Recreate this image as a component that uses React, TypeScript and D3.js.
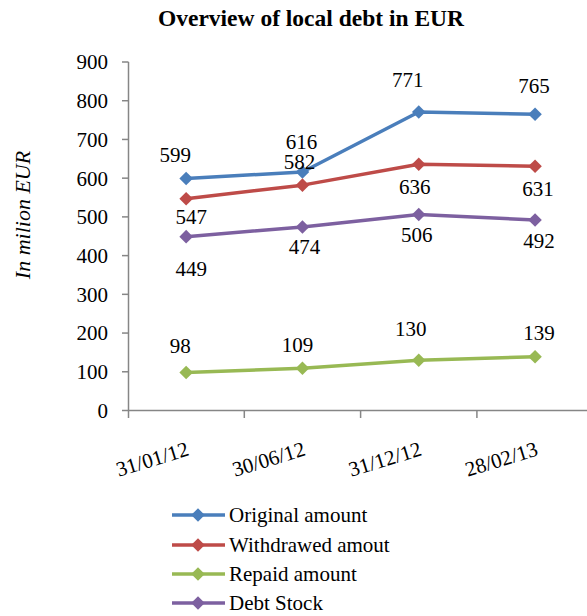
import React from "react";
import * as d3 from "d3";

const categories = ["31/01/12", "30/06/12", "31/12/12", "28/02/13"];
const seriesNames = ["Original amount", "Withdrawed amout", "Repaid amount", "Debt Stock"];
const originalAmount = [599, 616, 771, 765];
const withdrawedAmount = [547, 582, 636, 631];
const repaidAmount = [98, 109, 130, 139];
const debtStock = [449, 474, 506, 492];
const yTicks = [0, 100, 200, 300, 400, 500, 600, 700, 800, 900];

const colors = ["#4A7EBB", "#BE4B48", "#98B954", "#7D60A0"];
// label offsets (dx, dy) relative to the point
const labelOffsets = [
  [[-11, -17], [-1, -23], [-11, -25], [-1, -21]],
  [[5, 25], [-3, -16], [-4, 30], [3, 30]],
  [[-6, -20], [-5, -16], [-8, -24], [4, -17]],
  [[5, 39], [2, 27], [-2, 27], [4, 28]],
];

const W = 587;
const H = 616;
const FONT = "Liberation Serif, Times New Roman, serif";
const ts = { fontFamily: FONT };
const FS = 21;

export default function App() {
  const seriesValues = [originalAmount, withdrawedAmount, repaidAmount, debtStock];
  const x = d3.scaleBand<string>().domain(categories).range([128, 128 + 116.3 * 4]).paddingInner(0).paddingOuter(0);
  const y = d3.scaleLinear().domain([0, 900]).range([410.5, 62]);
  const cx = (c: string) => (x(c) as number) + x.bandwidth() / 2;
  const line = d3
    .line<number>()
    .x((_, i) => cx(categories[i]))
    .y((d) => y(d));
  const diamond = d3.symbol().type(d3.symbolSquare).size(92)();
  const axisColor = "#868686";
  const legendY = [515, 545, 574, 603];

  return (
    <svg
      width={W}
      height={H}
      style={{ position: "absolute", left: 0, top: 0, background: "#fff", fontFamily: FONT }}
    >
      <text x={311} y={26} textAnchor="middle" fontSize={23.5} fontWeight="bold" fill="#000" style={ts}>
        Overview of local debt in EUR
      </text>
      <text
        transform={`translate(30,215) rotate(-90)`}
        textAnchor="middle"
        fontSize={22}
        fontStyle="italic"
        fill="#000"
        style={ts}
      >
        In milion EUR
      </text>
      {/* y axis */}
      <line x1={128.5} x2={128.5} y1={y(900)} y2={418} stroke={axisColor} strokeWidth={1.5} />
      {yTicks.map((t) => (
        <g key={t}>
          <line x1={122} x2={128.5} y1={y(t)} y2={y(t)} stroke={axisColor} strokeWidth={1.5} />
          <text x={108} y={y(t)} dy="0.35em" textAnchor="end" fontSize={FS} fill="#000" style={ts}>
            {t}
          </text>
        </g>
      ))}
      {/* x axis */}
      <line x1={128} x2={W} y1={y(0)} y2={y(0)} stroke={axisColor} strokeWidth={1.5} />
      {categories.map((c, i) =>
        i > 0 ? (
          <line key={c} x1={x(c)} x2={x(c)} y1={y(0)} y2={418} stroke={axisColor} strokeWidth={1.5} />
        ) : null
      )}
      {categories.map((c) => (
        <text
          key={c}
          transform={`translate(${cx(c) + 4},455) rotate(-17)`}
          textAnchor="end"
          fontSize={FS}
          fill="#000"
          style={ts}
        >
          {c}
        </text>
      ))}
      {/* series */}
      {seriesValues.map((vals, si) => (
        <g key={si}>
          <path d={line(vals) || ""} fill="none" stroke={colors[si]} strokeWidth={3.5} strokeLinejoin="round" />
          {vals.map((v, i) => (
            <path
              key={i}
              d={diamond || ""}
              transform={`translate(${cx(categories[i])},${y(v)}) rotate(45)`}
              fill={colors[si]}
            />
          ))}
          {vals.map((v, i) => (
            <text
              key={"l" + i}
              x={cx(categories[i]) + labelOffsets[si][i][0]}
              y={y(v) + labelOffsets[si][i][1]}
              textAnchor="middle"
              fontSize={FS}
              fill="#000"
              style={ts}
            >
              {v}
            </text>
          ))}
        </g>
      ))}
      {/* legend */}
      {seriesNames.map((n, si) => (
        <g key={n}>
          <line x1={172} x2={225} y1={legendY[si]} y2={legendY[si]} stroke={colors[si]} strokeWidth={3.5} />
          <path d={diamond || ""} transform={`translate(198,${legendY[si]}) rotate(45)`} fill={colors[si]} />
          <text x={229} y={legendY[si]} dy="0.33em" fontSize={FS} fill="#000" style={ts}>
            {n}
          </text>
        </g>
      ))}
    </svg>
  );
}
